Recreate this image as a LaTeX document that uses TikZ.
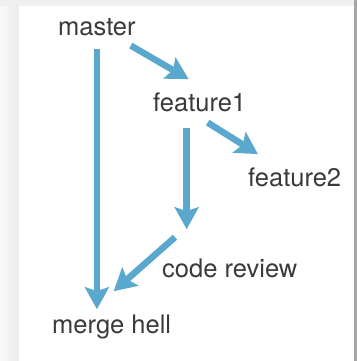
\documentclass[tikz,border=0pt]{standalone}
\usepackage{fontspec}
\setmainfont{TeX Gyre Heros}
\usetikzlibrary{positioning,arrows.meta}
\definecolor{flowblue}{HTML}{5AA8CE}
\definecolor{ink}{HTML}{3A3A3A}

\begin{document}
\begin{tikzpicture}[x=1bp,y=-1bp,
	lbl/.style={anchor=base west,inner sep=0pt,text=ink,font=\fontsize{25.5bp}{30bp}\selectfont},
	flow/.style={draw=flowblue,line width=6.5bp,-{Stealth[length=22bp,width=24bp,inset=4bp]}}]
	% frame of the screenshot
	\useasboundingbox (0,0) rectangle (357,361);
	\fill[black!6] (0,0) rectangle (357,361);
	\shade[left color=black!2,right color=black!8] (0,6) rectangle (19,361);
	\fill[white] (19,6) rectangle (354,361);
	\fill[black!35] (354,0) rectangle (357,361);

	\node[lbl] (master) at (58,35) {master};
	\node[lbl] (feature1) at (153,111) {feature1};
	\node[lbl] (feature2) at (248,186) {feature2};
	\node[lbl] (review) at (162,277) {code review};
	\node[lbl] (hell) at (52,333) {merge hell};

	\draw[flow,shorten <=13bp,shorten >=5bp] (master.south) -- (master.south |- hell.north);
	\draw[flow] ([xshift=-5bp,yshift=-10bp]master.south east) -- ([xshift=-11bp,yshift=13bp]feature1.north);
	\draw[flow] ([xshift=8bp,yshift=-11bp]feature1.south) -- ([xshift=10bp,yshift=13bp]feature2.north west);
	\draw[flow,shorten <=16bp,shorten >=29bp] ([xshift=-13bp]feature1.south) -- ([xshift=-13bp]feature1.south |- review.north);
	\draw[flow] ([xshift=13bp,yshift=21bp]review.north west) -- ([xshift=2bp,yshift=23bp]hell.north);

\end{tikzpicture}
\end{document}
